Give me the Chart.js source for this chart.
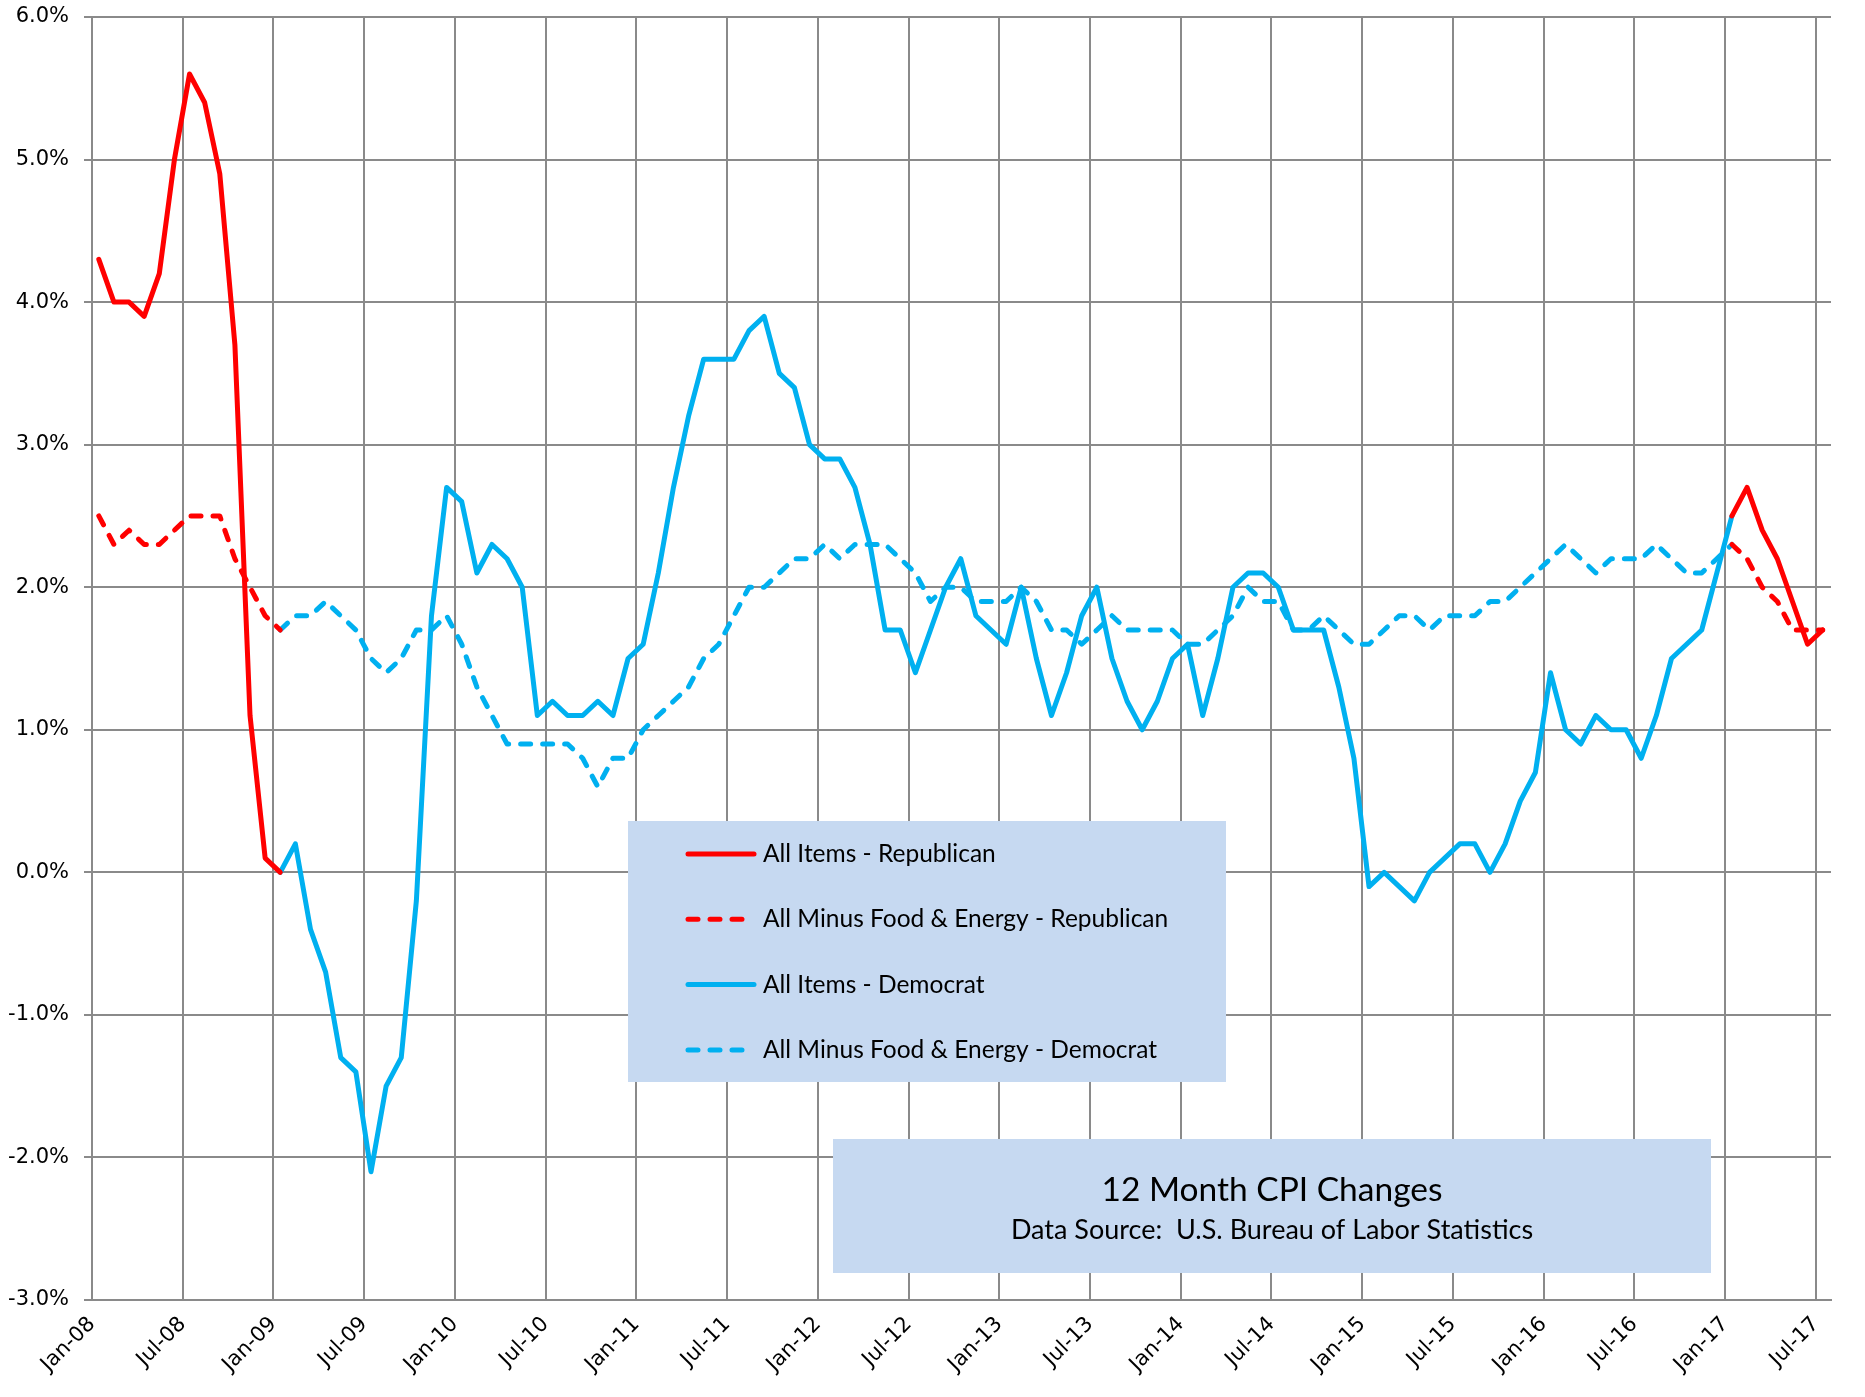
<!DOCTYPE html>
<html>
<head>
<meta charset="utf-8">
<script src="https://cdn.jsdelivr.net/npm/chart.js@4.4.0/dist/chart.umd.min.js"></script>
<style>
  html, body { margin: 0; padding: 0; background: #ffffff; }
  #wrap { width: 1865px; height: 1397px; position: relative; }
</style>
</head>
<body>
<div id="wrap"><canvas id="cpichart"></canvas></div>
<script>
// tick labels on the x axis, one every 6 months starting Jan-08
const tickLabels = ['Jan-08', 'Jul-08', 'Jan-09', 'Jul-09', 'Jan-10', 'Jul-10', 'Jan-11', 'Jul-11',
  'Jan-12', 'Jul-12', 'Jan-13', 'Jul-13', 'Jan-14', 'Jul-14', 'Jan-15', 'Jul-15', 'Jan-16', 'Jul-16',
  'Jan-17', 'Jul-17'];

// 12 month % change, monthly. Jan-08 .. Jan-09
const allItemsRep08 = [4.3, 4.0, 4.0, 3.9, 4.2, 5.0, 5.6, 5.4, 4.9, 3.7, 1.1, 0.1, 0.0];
const coreRep08 = [2.5, 2.3, 2.4, 2.3, 2.3, 2.4, 2.5, 2.5, 2.5, 2.2, 2.0, 1.8, 1.7];

// Jan-09 .. Jan-17
const allItemsDem = [
  0.0, 0.2, -0.4, -0.7, -1.3, -1.4, -2.1, -1.5, -1.3, -0.2, 1.8, 2.7,
  2.6, 2.1, 2.3, 2.2, 2.0, 1.1, 1.2, 1.1, 1.1, 1.2, 1.1, 1.5,
  1.6, 2.1, 2.7, 3.2, 3.6, 3.6, 3.6, 3.8, 3.9, 3.5, 3.4, 3.0,
  2.9, 2.9, 2.7, 2.3, 1.7, 1.7, 1.4, 1.7, 2.0, 2.2, 1.8, 1.7,
  1.6, 2.0, 1.5, 1.1, 1.4, 1.8, 2.0, 1.5, 1.2, 1.0, 1.2, 1.5,
  1.6, 1.1, 1.5, 2.0, 2.1, 2.1, 2.0, 1.7, 1.7, 1.7, 1.3, 0.8,
  -0.1, 0.0, -0.1, -0.2, 0.0, 0.1, 0.2, 0.2, 0.0, 0.2, 0.5, 0.7,
  1.4, 1.0, 0.9, 1.1, 1.0, 1.0, 0.8, 1.1, 1.5, 1.6, 1.7, 2.1,
  2.5];
const coreDem = [
  1.7, 1.8, 1.8, 1.9, 1.8, 1.7, 1.5, 1.4, 1.5, 1.7, 1.7, 1.8,
  1.6, 1.3, 1.1, 0.9, 0.9, 0.9, 0.9, 0.9, 0.8, 0.6, 0.8, 0.8,
  1.0, 1.1, 1.2, 1.3, 1.5, 1.6, 1.8, 2.0, 2.0, 2.1, 2.2, 2.2,
  2.3, 2.2, 2.3, 2.3, 2.3, 2.2, 2.1, 1.9, 2.0, 2.0, 1.9, 1.9,
  1.9, 2.0, 1.9, 1.7, 1.7, 1.6, 1.7, 1.8, 1.7, 1.7, 1.7, 1.7,
  1.6, 1.6, 1.7, 1.8, 2.0, 1.9, 1.9, 1.7, 1.7, 1.8, 1.7, 1.6,
  1.6, 1.7, 1.8, 1.8, 1.7, 1.8, 1.8, 1.8, 1.9, 1.9, 2.0, 2.1,
  2.2, 2.3, 2.2, 2.1, 2.2, 2.2, 2.2, 2.3, 2.2, 2.1, 2.1, 2.2,
  2.3];

// Jan-17 .. Jul-17
const allItemsRep17 = [2.5, 2.7, 2.4, 2.2, 1.9, 1.6, 1.7];
const coreRep17 = [2.3, 2.2, 2.0, 1.9, 1.7, 1.7, 1.7];

// month index of first value of each block (Jan-08 = 0)
const START_08 = 0, START_09 = 12, START_17 = 108;
const MID_MONTH = 0.45;

function toPoints(start, values) {
    return values.map((v, i) => ({ x: start + i + MID_MONTH, y: v }));
}

const RED = '#ff0000';
const BLUE = '#00b0f0';
const GRID = '#8a8a8a';
const BOX = '#c6d9f1';
const DASH = [10, 12];

const boxesPlugin = {
    id: 'cpiBoxes',
    afterDatasetsDraw(chart) {
        const ctx = chart.ctx;
        ctx.save();

        // legend box
        ctx.fillStyle = BOX;
        ctx.fillRect(628, 821, 598, 261);
        chart.data.datasets.forEach((ds, i) => {
            const y = 854 + i * 65.3;
            ctx.strokeStyle = ds.borderColor;
            ctx.lineWidth = 5;
            ctx.lineCap = 'round';
            ctx.setLineDash(ds.borderDash || []);
            ctx.beginPath();
            ctx.moveTo(688, y);
            ctx.lineTo(ds.borderDash ? 746 : 754, y);
            ctx.stroke();
            ctx.setLineDash([]);
            ctx.fillStyle = '#000';
            ctx.font = '24.5px Lato';
            ctx.textAlign = 'left';
            ctx.textBaseline = 'middle';
            ctx.fillText(ds.label, 763, y);
        });

        // title box
        ctx.fillStyle = BOX;
        ctx.fillRect(833, 1139, 878, 134);
        ctx.fillStyle = '#000';
        ctx.textAlign = 'center';
        ctx.textBaseline = 'middle';
        ctx.font = '33.5px Lato';
        ctx.fillText('12 Month CPI Changes', 1272, 1190);
        ctx.font = '27px Lato';
        ctx.fillText('Data Source:  U.S. Bureau of Labor Statistics', 1272, 1230);

        ctx.restore();
    }
};

window.addEventListener('load', () => {

    const ctx = document.getElementById('cpichart');

    new Chart(ctx, {
        type: 'line',
        data: {
            datasets: [
                {
                    label: 'All Items - Republican',
                    data: toPoints(START_08, allItemsRep08)
                        .concat([{ x: 60, y: null }], toPoints(START_17, allItemsRep17)),
                    borderColor: RED
                },
                {
                    label: 'All Minus Food & Energy - Republican',
                    data: toPoints(START_08, coreRep08)
                        .concat([{ x: 60, y: null }], toPoints(START_17, coreRep17)),
                    borderColor: RED,
                    borderDash: DASH
                },
                {
                    label: 'All Items - Democrat',
                    data: toPoints(START_09, allItemsDem),
                    borderColor: BLUE
                },
                {
                    label: 'All Minus Food & Energy - Democrat',
                    data: toPoints(START_09, coreDem),
                    borderColor: BLUE,
                    borderDash: DASH
                }
            ]
        },
        options: {
            responsive: true,
            maintainAspectRatio: false,
            animation: false,
            devicePixelRatio: 1,
            datasets: {
                line: {
                    borderWidth: 5,
                    pointRadius: 0,
                    tension: 0,
                    spanGaps: false,
                    fill: false,
                    borderCapStyle: 'round',
                    borderJoinStyle: 'round'
                }
            },
            layout: {
                padding: { top: 17, right: 34, left: 0, bottom: 0 }
            },
            scales: {
                x: {
                    type: 'linear',
                    min: 0,
                    max: 115,
                    afterBuildTicks: axis => {
                        axis.ticks = tickLabels.map((t, i) => ({ value: i * 6 }));
                    },
                    afterFit: s => {
                        s.height = 97;
                        s.paddingLeft = 0;
                        s.paddingRight = 0;
                    },
                    ticks: {
                        autoSkip: false,
                        minRotation: 45,
                        maxRotation: 45,
                        padding: 12,
                        color: '#000',
                        font: { family: 'DejaVu Sans', size: 21 },
                        callback: (v, i) => tickLabels[i]
                    },
                    grid: { color: GRID, lineWidth: 2, drawTicks: false },
                    border: { color: GRID, width: 2 }
                },
                y: {
                    min: -3,
                    max: 6,
                    afterFit: s => {
                        s.width = 92;
                        s.paddingTop = 0;
                        s.paddingBottom = 0;
                    },
                    ticks: {
                        stepSize: 1,
                        padding: 15,
                        color: '#000',
                        font: { family: 'DejaVu Sans', size: 21 },
                        callback: v => v.toFixed(1) + '%'
                    },
                    grid: { color: GRID, lineWidth: 2, tickLength: 8 },
                    border: { color: GRID, width: 2 }
                }
            },
            plugins: {
                legend: { display: false },
                tooltip: { enabled: false },
                title: { display: false }
            }
        },
        plugins: [boxesPlugin]
    });

});
</script>
</body>
</html>
